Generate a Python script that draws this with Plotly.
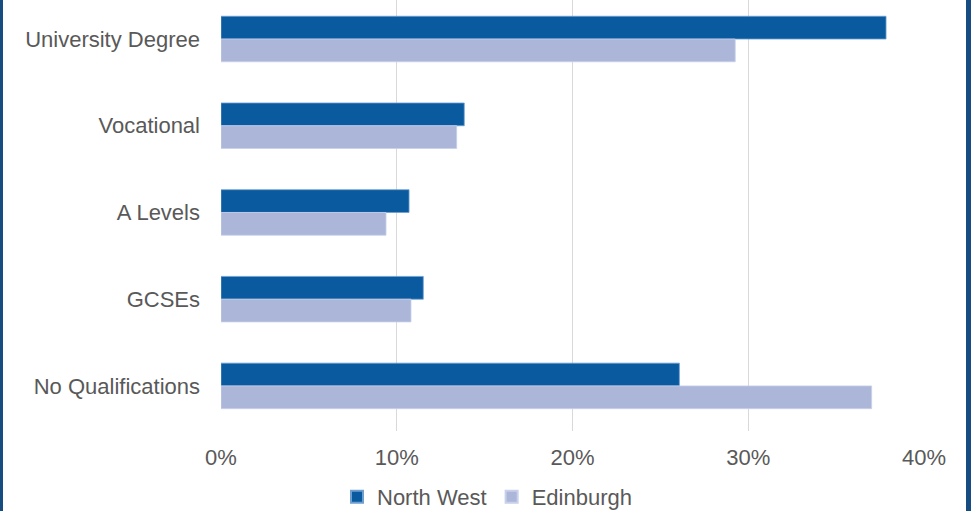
import plotly.graph_objects as go

categories = ["University Degree", "Vocational", "A Levels", "GCSEs", "No Qualifications"]
north_west = [37.84, 13.84, 10.70, 11.51, 26.08]
edinburgh = [29.26, 13.41, 9.39, 10.81, 37.02]
x_ticks = [0, 10, 20, 30, 40]
x_tick_labels = ["0%", "10%", "20%", "30%", "40%"]

DARK = "#0a5aa0"
LIGHT = "#acb6d9"
TEXT = "#595959"
FONT = "Liberation Sans, Arial, sans-serif"

fig = go.Figure()
fig.add_trace(go.Bar(
    y=categories, x=north_west, orientation="h", name="North West",
    marker=dict(color=DARK, line=dict(color="#6f9fd0", width=0.8)),
))
fig.add_trace(go.Bar(
    y=categories, x=edinburgh, orientation="h", name="Edinburgh",
    marker=dict(color=LIGHT, line=dict(color="#c8d0ea", width=0.8)),
))

L, R, T, B = 221, 47, 0, 80
W, H = 971, 511
pw = W - L - R
ph = H - T - B

fig.update_layout(
    width=W, height=H,
    margin=dict(l=L, r=R, t=T, b=B, pad=0),
    paper_bgcolor="white", plot_bgcolor="white",
    barmode="group", bargap=0.475, bargroupgap=0,
    font=dict(family=FONT, color=TEXT, size=22),
    showlegend=True,
    legend=dict(
        orientation="h", xref="container", x=487 / W, xanchor="center",
        yref="container", y=(H - 497) / H, yanchor="middle",
        font=dict(size=22, color=TEXT), traceorder="normal",
        itemsizing="constant", bgcolor="rgba(0,0,0,0)",
    ),
    xaxis=dict(
        range=[0, 40], tickvals=x_ticks, ticktext=x_tick_labels,
        showgrid=True, gridcolor="#d9d9d9", gridwidth=1,
        zeroline=False, showline=False, ticks="",
        ticklabelstandoff=11, tickfont=dict(size=22, color=TEXT),
        fixedrange=True, automargin=False,
    ),
    yaxis=dict(
        range=[4.52, -0.45], showgrid=False, zeroline=False, showline=False,
        ticks="", ticklabelstandoff=20, tickfont=dict(size=22, color=TEXT),
        fixedrange=True, automargin=False,
    ),
    shapes=[
        dict(type="rect", xref="paper", yref="paper",
             x0=-L / pw - 0.01, x1=-(L - 3) / pw, y0=-B / ph - 0.02, y1=1.01,
             fillcolor="#174c80", line=dict(width=0), layer="above"),
        dict(type="rect", xref="paper", yref="paper",
             x0=(966 - L) / pw, x1=(972 - L) / pw + 0.01, y0=-B / ph - 0.02, y1=1.01,
             fillcolor="#174c80", line=dict(width=0), layer="above"),
    ],
)

fig.write_html(
    "out.html",
    config={"displayModeBar": False},
    post_script="document.body.style.margin='0';document.body.style.padding='0';",
)
